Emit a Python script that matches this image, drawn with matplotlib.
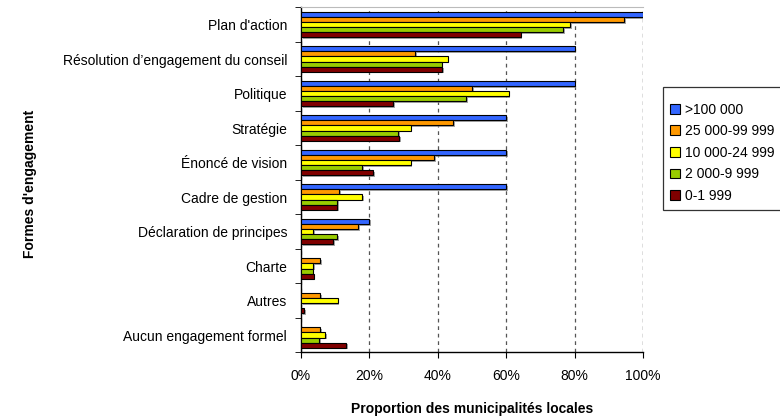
import numpy as np
import matplotlib
matplotlib.use("Agg")
import matplotlib.pyplot as plt
import matplotlib.patheffects as pe

plt.rcParams['font.family'] = ['Liberation Sans', 'DejaVu Sans']
plt.rcParams['font.size'] = 10

categories = ["Plan d'action", "Résolution d’engagement du conseil", "Politique",
              "Stratégie", "Énoncé de vision", "Cadre de gestion",
              "Déclaration de principes", "Charte", "Autres",
              "Aucun engagement formel"]

series_labels = [">100 000", "25 000-99 999", "10 000-24 999", "2 000-9 999", "0-1 999"]

pop_100k = [100, 80, 80, 60, 60, 60, 20, 0, 0, 0]
pop_25k = [94.4, 33.3, 50.0, 44.4, 38.9, 11.1, 16.7, 5.6, 5.6, 5.6]
pop_10k = [78.6, 42.9, 60.7, 32.1, 32.1, 17.9, 3.6, 3.6, 10.7, 7.1]
pop_2k = [76.7, 41.1, 48.2, 28.5, 17.8, 10.6, 10.6, 3.4, 0, 5.3]
pop_0 = [64.2, 41.3, 26.9, 28.7, 21.1, 10.6, 9.5, 3.7, 1.0, 13.3]

series = [pop_100k, pop_25k, pop_10k, pop_2k, pop_0]
colors = ["#3366FF", "#FF9900", "#FFFF00", "#99CC00", "#800000"]

fig = plt.figure(figsize=(7.8, 4.17), dpi=100)
ax = fig.add_axes([0.3859, 0.1552, 0.4385, 0.8273])

bar_h = 0.148
y = np.arange(len(categories))
shadow = [pe.SimplePatchShadow(offset=(1.2, -1.2), shadow_rgbFace="#808080", alpha=0.7), pe.Normal()]

for j, vals in enumerate(series):
    vals = np.array(vals, dtype=float)
    keep = vals > 0
    bars = ax.barh(y[keep] + (j - 2) * bar_h, vals[keep], height=bar_h,
                   color=colors[j], edgecolor="black", linewidth=0.8, zorder=3)
    for b in bars:
        b.set_path_effects(shadow)
    # legend proxy
    ax.bar(0, 0, color=colors[j], edgecolor="black", linewidth=0.8, label=series_labels[j])

ax.set_xlim(0, 100)
ax.set_ylim(len(categories) - 0.5, -0.5)

ax.set_xticks([0, 20, 40, 60, 80, 100])
ax.set_xticklabels(["0%", "20%", "40%", "60%", "80%", "100%"])
ax.xaxis.grid(True, linestyle=(0, (3, 3)), color="#555555", linewidth=0.9)
ax.set_axisbelow(True)

ax.set_yticks(y)
ax.set_yticklabels(categories)
ax.tick_params(axis="y", length=0, pad=10)
ax.set_yticks(np.arange(len(categories) + 1) - 0.5, minor=True)
ax.tick_params(axis="y", which="minor", length=4, color="black")
ax.tick_params(axis="x", length=4, color="black", pad=8)

ax.spines["right"].set_visible(False)
ax.spines["top"].set_color("#bbbbbb")
ax.spines["top"].set_linewidth(0.8)
ax.spines["left"].set_linewidth(1.0)
ax.spines["bottom"].set_linewidth(1.0)
ax.axvline(100, color="#999999", linestyle=(0, (3, 3)), linewidth=0.9, zorder=1)

ax.set_xlabel("Proportion des municipalités locales", fontweight="bold", labelpad=14)
fig.text(0.038, 0.56, "Formes d'engagement", rotation=90, fontweight="bold",
         ha="center", va="center")

leg = fig.legend(loc="upper left", bbox_to_anchor=(0.85, 0.7914), frameon=True,
                 fancybox=False, edgecolor="black", handlelength=0.7, handleheight=0.7,
                 handletextpad=0.4, labelspacing=0.55, borderpad=0.5, borderaxespad=0,
                 title=" ", title_fontsize=1)
leg.get_frame().set_linewidth(0.9)

fig.savefig("out.png", dpi=100)
